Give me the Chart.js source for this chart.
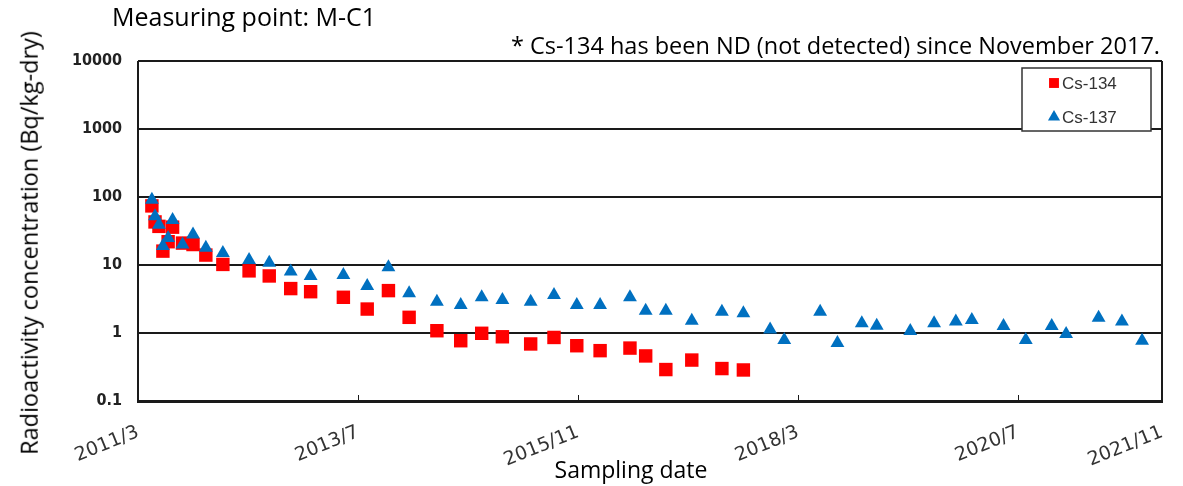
<!DOCTYPE html>
<html>
<head>
<meta charset="utf-8">
<script src="https://cdn.jsdelivr.net/npm/chart.js@4.4.0/dist/chart.umd.min.js"></script>
<style>
  html, body { margin: 0; padding: 0; background: #fff; }
  #wrap { position: relative; width: 1183px; height: 486px; overflow: hidden; font-family: 'Open Sans', sans-serif; color: #000; }
  #chart { position: absolute; left: 0; top: 0; }
  .txt { position: absolute; white-space: nowrap; line-height: 1.3; }
</style>
</head>
<body>
<div id="wrap">
  <canvas id="chart" width="1183" height="486"></canvas>
  <div class="txt" style="left:112px; top:0px; font-size:25px;">Measuring point: M-C1</div>
  <div class="txt" style="right:23px; top:30px; font-size:23.5px;">* Cs-134 has been ND (not detected) since November 2017.</div>
  <div class="txt" style="left:631px; top:470px; font-size:23px; transform:translate(-50%,-50%);">Sampling date</div>
  <div class="txt" style="left:29px; top:243px; font-size:23.5px; transform:translate(-50%,-50%) rotate(-90deg);">Radioactivity concentration (Bq/kg-dry)</div>
</div>
<script>
// sampling dates (y/m/d)
const sampleDates = [
  '2011/4/24', '2011/5/6', '2011/5/21', '2011/6/6', '2011/6/26', '2011/7/13', '2011/8/21', '2011/10/1',
  '2011/11/20', '2012/1/25', '2012/5/5', '2012/7/22', '2012/10/14', '2012/12/30', '2013/5/5', '2013/8/6',
  '2013/10/27', '2014/1/16', '2014/5/2', '2014/8/3', '2014/10/23', '2015/1/12', '2015/4/30', '2015/7/29',
  '2015/10/26', '2016/1/25', '2016/5/19', '2016/7/19', '2016/10/6', '2017/1/15', '2017/5/10', '2017/8/2',
  '2017/11/14', '2018/1/8', '2018/5/25', '2018/8/1', '2018/11/4', '2019/1/1', '2019/5/9', '2019/8/10',
  '2019/11/3', '2020/1/4', '2020/5/5', '2020/7/30', '2020/11/9', '2021/1/4', '2021/5/8', '2021/8/7',
  '2021/10/24'
];

// Bq/kg-dry, null = ND
const cs134 = [
  74, 43, 37, 16, 22, 36, 21, 20,
  14, 10.2, 8.2, 6.9, 4.5, 4.05, 3.35, 2.25,
  4.2, 1.7, 1.08, 0.77, 0.99, 0.88, 0.69, 0.86,
  0.65, 0.55, 0.6, 0.46, 0.29, 0.4, 0.3, 0.286,
  null, null, null, null, null, null, null, null,
  null, null, null, null, null, null, null, null,
  null
];

const cs137 = [
  91, 52, 39, 19, 25, 46, 20, 28,
  18, 15, 11.8, 10.8, 8.0, 6.9, 7.1, 4.9,
  9.25, 3.84, 2.89, 2.58, 3.35, 3.06, 2.89, 3.62,
  2.58, 2.58, 3.35, 2.13, 2.13, 1.52, 2.06, 1.95,
  1.13, 0.79, 2.06, 0.71, 1.39, 1.28, 1.07, 1.39,
  1.47, 1.55, 1.27, 0.79, 1.27, 0.97, 1.68, 1.47,
  0.77
];

const xTickLabels = ['2011/3', '2013/7', '2015/11', '2018/3', '2020/7', '2021/11'];
const xTickDates = ['2011/3/1', '2013/7/1', '2015/11/1', '2018/3/1', '2020/7/1', '2022/1/10'];
const yTickValues = [0.1, 1, 10, 100, 1000, 10000];
const yTickLabels = ['0.1', '1', '10', '100', '1000', '10000'];

// months since 2011/3
function toMonths(s) {
  const [y, m, d] = s.split('/').map(Number);
  return (y - 2011) * 12 + (m - 3) + (d - 1) / 30;
}

function toPoints(values) {
  const pts = [];
  values.forEach((v, i) => {
    if (v !== null) pts.push({ x: toMonths(sampleDates[i]), y: v });
  });
  return pts;
}

const xTicks = xTickDates.map(toMonths);

// frame, inner tick marks and the boxed legend
const framePlugin = {
  id: 'frame',
  afterDraw(chart) {
    const ctx = chart.ctx;
    const a = chart.chartArea;
    const xs = chart.scales.x;
    ctx.save();
    ctx.strokeStyle = '#1a1a1a';
    ctx.lineWidth = 2;
    ctx.beginPath();
    ctx.moveTo(a.left, a.top);
    ctx.lineTo(a.left, a.bottom);
    ctx.moveTo(a.right, a.top);
    ctx.lineTo(a.right, a.bottom);
    ctx.stroke();
    ctx.lineWidth = 1;
    ctx.beginPath();
    xTicks.slice(1, -1).forEach(v => {
      const px = Math.round(xs.getPixelForValue(v)) + 0.5;
      ctx.moveTo(px, a.bottom);
      ctx.lineTo(px, a.bottom - 6);
    });
    ctx.stroke();

    // legend
    const bx = a.right - 140, by = a.top + 7, bw = 129, bh = 63;
    ctx.fillStyle = '#fff';
    ctx.fillRect(bx, by, bw, bh);
    ctx.strokeStyle = '#333';
    ctx.lineWidth = 1.5;
    ctx.strokeRect(bx, by, bw, bh);
    ctx.font = '17px "Liberation Sans", Arial, sans-serif';
    ctx.textBaseline = 'middle';
    chart.data.datasets.forEach((ds, i) => {
      const cy = by + 15 + i * 34;
      ctx.fillStyle = ds.backgroundColor;
      Chart.helpers.drawPoint(ctx, { pointStyle: ds.pointStyle, radius: 7, borderWidth: 0, rotation: 0 }, bx + 32, cy);
      ctx.fillStyle = '#333';
      ctx.fillText(ds.label, bx + 40, cy + 1);
    });
    ctx.restore();
  }
};

new Chart(document.getElementById('chart'), {
  type: 'scatter',
  data: {
    datasets: [
      {
        label: 'Cs-134',
        data: toPoints(cs134),
        pointStyle: 'rect',
        pointRadius: 9.5,
        backgroundColor: '#ff0000',
        borderWidth: 0,
        order: 2
      },
      {
        label: 'Cs-137',
        data: toPoints(cs137),
        pointStyle: 'triangle',
        pointRadius: 8,
        backgroundColor: '#0070c0',
        borderWidth: 0,
        order: 1
      }
    ]
  },
  options: {
    responsive: false,
    animation: false,
    events: [],
    layout: { padding: { top: 61, right: 21, left: 0, bottom: 0 } },
    plugins: {
      legend: { display: false },
      tooltip: { enabled: false }
    },
    scales: {
      x: {
        type: 'linear',
        min: xTicks[0],
        max: xTicks[xTicks.length - 1],
        afterBuildTicks: scale => { scale.ticks = xTicks.map(v => ({ value: v })); },
        afterFit: scale => {
          scale.height = 85;
          scale.paddingLeft = 0;
          scale.paddingRight = 0;
        },
        grid: { display: false, drawTicks: false },
        border: { display: true, color: '#1a1a1a', width: 3 },
        ticks: {
          autoSkip: false,
          minRotation: 22,
          maxRotation: 22,
          padding: 20,
          color: '#333',
          font: { family: '"DejaVu Sans", sans-serif', size: 19 },
          callback: (v, i) => xTickLabels[i]
        }
      },
      y: {
        type: 'logarithmic',
        min: 0.1,
        max: 10000,
        afterBuildTicks: scale => { scale.ticks = yTickValues.map(v => ({ value: v })); },
        afterFit: scale => { scale.width = 138; },
        grid: { color: '#1a1a1a', lineWidth: 2, drawTicks: false },
        border: { display: false },
        ticks: {
          padding: 16,
          color: '#222',
          font: { family: '"Liberation Sans Narrow", "DejaVu Sans Condensed", sans-serif', size: 16, weight: 'bold' },
          callback: (v, i) => yTickLabels[i]
        }
      }
    }
  },
  plugins: [framePlugin]
});
</script>
</body>
</html>
